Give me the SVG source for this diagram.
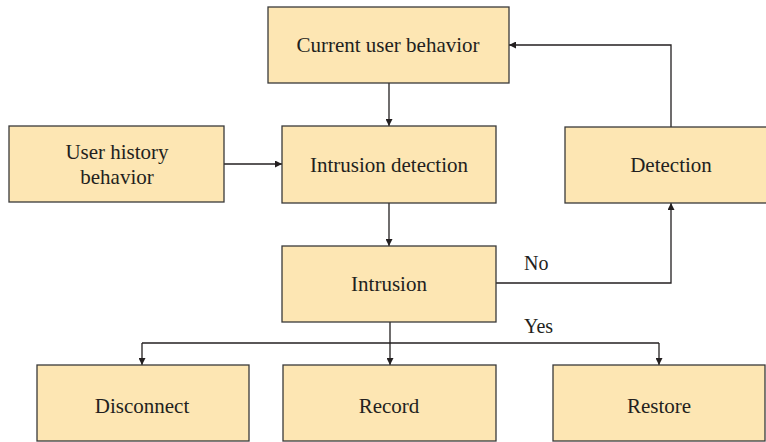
<svg xmlns="http://www.w3.org/2000/svg" width="766" height="442" viewBox="0 0 766 442">
<style>
.box{fill:#fde6b3;stroke:#3a3a3a;stroke-width:1.3}
.t{font-family:"Liberation Serif","DejaVu Serif",serif;font-size:21px;fill:#231f20;text-anchor:middle}
.l{font-family:"Liberation Serif","DejaVu Serif",serif;font-size:20px;fill:#231f20}
.c{fill:none;stroke:#231f20;stroke-width:1.3}
</style>
<defs>
<marker id="a" viewBox="0 0 10 10" refX="10" refY="5" markerWidth="7" markerHeight="7" orient="auto" markerUnits="userSpaceOnUse"><path d="M0,0 L10,5 L0,10 z" fill="#231f20"/></marker>
</defs>
<rect width="766" height="442" fill="#fff"/>
<g id="connectors">
<line class="c" x1="389" y1="83" x2="389" y2="126" marker-end="url(#a)"/>
<line class="c" x1="224" y1="164" x2="282" y2="164" marker-end="url(#a)"/>
<line class="c" x1="389" y1="203" x2="389" y2="246" marker-end="url(#a)"/>
<polyline class="c" points="496,283 671,283 671,203" marker-end="url(#a)"/>
<polyline class="c" points="671,127 671,45 509,45" marker-end="url(#a)"/>
<line class="c" x1="390" y1="322" x2="390" y2="343"/>
<line class="c" x1="142" y1="343" x2="659" y2="343"/>
<line class="c" x1="142" y1="343" x2="142" y2="365" marker-end="url(#a)"/>
<line class="c" x1="390" y1="343" x2="390" y2="365" marker-end="url(#a)"/>
<line class="c" x1="659" y1="343" x2="659" y2="365" marker-end="url(#a)"/>
<text class="l" x="524" y="270">No</text>
<text class="l" x="524" y="333">Yes</text>
</g>
<g id="current"><rect class="box" x="268" y="7" width="241" height="76"/><text class="t" x="388" y="52">Current user behavior</text></g>
<g id="history"><rect class="box" x="9" y="126" width="215" height="76"/><text class="t" x="117" y="159">User history</text><text class="t" x="117" y="184">behavior</text></g>
<g id="detectionIntrusion"><rect class="box" x="282" y="126" width="214" height="77"/><text class="t" x="389" y="172">Intrusion detection</text></g>
<g id="detection"><rect class="box" x="565" y="127" width="212" height="76"/><text class="t" x="671" y="172">Detection</text></g>
<g id="intrusion"><rect class="box" x="282" y="246" width="214" height="76"/><text class="t" x="389" y="291">Intrusion</text></g>
<g id="disconnect"><rect class="box" x="37" y="365" width="212" height="76"/><text class="t" x="142" y="413">Disconnect</text></g>
<g id="record"><rect class="box" x="283" y="365" width="213" height="76"/><text class="t" x="389" y="413">Record</text></g>
<g id="restore"><rect class="box" x="553" y="365" width="212" height="76"/><text class="t" x="659" y="413">Restore</text></g>
</svg>
